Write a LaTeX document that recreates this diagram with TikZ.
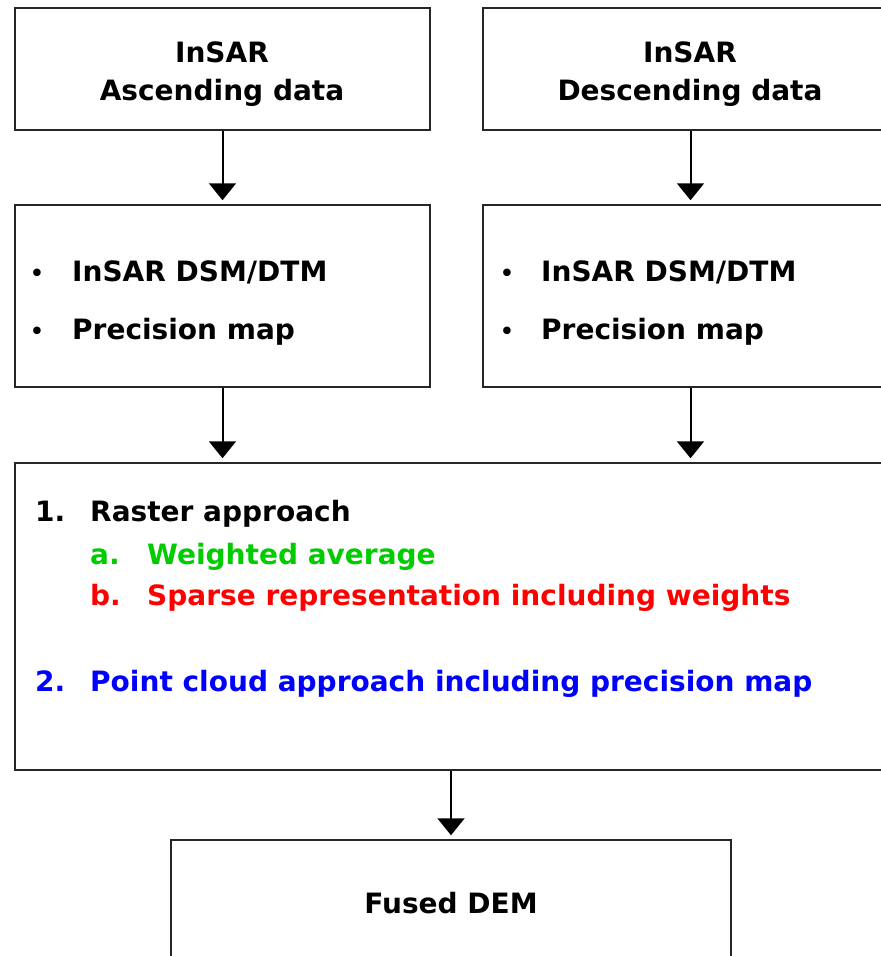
\documentclass[tikz,border=0pt]{standalone}
\usepackage{fontspec}
\setmainfont{DejaVu Sans}
\usetikzlibrary{arrows.meta}
\definecolor{grn}{RGB}{0,204,0}
\definecolor{rd}{RGB}{255,0,0}
\definecolor{bl}{RGB}{0,0,255}
\tikzset{
  box/.style={draw=black!85, line width=1.5pt, rectangle, inner sep=0pt},
  txt/.style={inner sep=0pt, font=\fontsize{28}{33}\selectfont\bfseries},
  bul/.style={inner sep=0pt, font=\fontsize{26}{30}\selectfont},
  arr/.style={line width=2pt, -{Triangle[length=17pt,width=27pt]}, shorten >=4pt}
}
\begin{document}
\begin{tikzpicture}[x=1pt,y=-1pt]
\useasboundingbox (0,0) rectangle (881,956);
\clip (0,0) rectangle (881,956);

% boxes
\node[box, minimum width=415pt, minimum height=122pt] (A) at (222.5,69) {};
\node[box, minimum width=415pt, minimum height=122pt] (B) at (690.5,69) {};
\node[box, minimum width=415pt, minimum height=182pt] (C) at (222.5,296) {};
\node[box, minimum width=415pt, minimum height=182pt] (D) at (690.5,296) {};
\node[box, minimum width=883pt, minimum height=307pt] (E) at (456.5,616.5) {};
\node[box, minimum width=560pt, minimum height=180pt] (F) at (451,930) {};

% headings
\node[txt, anchor=base] (a1) at (222,62) {InSAR};
\node[txt, anchor=base] (a2) at (222,100) {Ascending data};
\node[txt, anchor=base] (b1) at (690,62) {InSAR};
\node[txt, anchor=base] (b2) at (690,100) {Descending data};

% product lists
\node[bul, anchor=base] (c0) at (37,282) {•};
\node[txt, anchor=base west] (c1) at (72,281) {InSAR DSM/DTM};
\node[bul, anchor=base] (c3) at (37,340) {•};
\node[txt, anchor=base west] (c2) at (72,339) {Precision map};
\node[bul, anchor=base] (d0) at (507,282) {•};
\node[txt, anchor=base west] (d1) at (541,281) {InSAR DSM/DTM};
\node[bul, anchor=base] (d3) at (507,340) {•};
\node[txt, anchor=base west] (d2) at (541,339) {Precision map};

% fusion approaches
\node[txt, anchor=base west] (e1n) at (35,521) {1.};
\node[txt, anchor=base west] (e1) at (90,521) {Raster approach};
\node[txt, anchor=base west, text=grn] (e2n) at (90,564) {a.};
\node[txt, anchor=base west, text=grn] (e2) at (147,564) {Weighted average};
\node[txt, anchor=base west, text=rd] (e3n) at (90,605) {b.};
\node[txt, anchor=base west, text=rd] (e3) at (147,605) {Sparse representation including weights};
\node[txt, anchor=base west, text=bl] (e4n) at (35,691) {2.};
\node[txt, anchor=base west, text=bl] (e4) at (90,691) {Point cloud approach including precision map};

% result
\node[txt, anchor=base] (f1) at (451,913) {Fused DEM};

% connectors
\draw[arr] (A.south) -- (C.north);
\draw[arr] (B.south) -- (D.north);
\draw[arr] (C.south) -- (C.south |- E.north);
\draw[arr] (D.south) -- (D.south |- E.north);
\draw[arr] (F.north |- E.south) -- (F.north);
\end{tikzpicture}
\end{document}
